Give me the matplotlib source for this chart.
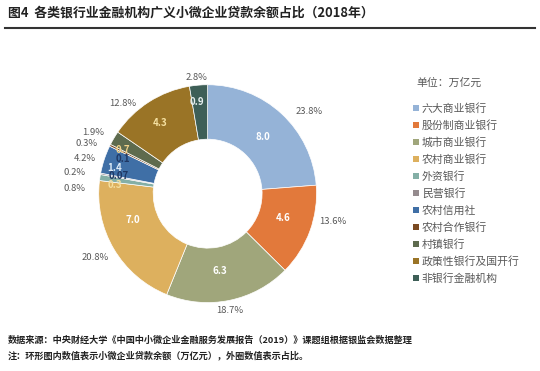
import matplotlib
matplotlib.use('Agg')
from matplotlib import pyplot as plt
from matplotlib.patches import Patch

plt.rcParams['font.family'] = ['Noto Sans CJK SC', 'DejaVu Sans']

# data (万亿元 and share %)
names = ['六大商业银行', '股份制商业银行', '城市商业银行', '农村商业银行', '外资银行',
         '民营银行', '农村信用社', '农村合作银行', '村镇银行', '政策性银行及国开行', '非银行金融机构']
amounts = [8.0, 4.6, 6.3, 7.0, 0.3, 0.07, 1.4, 0.1, 0.7, 4.3, 0.9]
amount_labels = ['8.0', '4.6', '6.3', '7.0', '0.3', '0.07', '1.4', '0.1', '0.7', '4.3', '0.9']
shares = ['23.8%', '13.6%', '18.7%', '20.8%', '0.8%', '0.2%', '4.2%', '0.3%', '1.9%', '12.8%', '2.8%']

colors = ['#95B3D7', '#E2793B', '#A0A67B', '#DDB05E', '#84AFA6', '#958B8E',
          '#3F6FA6', '#7A4A22', '#5E6B4E', '#9A7426', '#3E5F57']
inner_text_colors = ['white', 'white', 'white', 'white', '#F5E0A0', '#1F3864',
                     '#DDEBF7', '#1F3864', '#F2D28A', '#F5E0A0', '#E8F0F0']

# label placement (pie radius = 1)
inner_pos = [(0.51, 0.52), (0.69, -0.22), (0.11, -0.71), (-0.69, -0.24), (-0.85, 0.08),
             (-0.82, 0.16), (-0.85, 0.24), (-0.78, 0.32), (-0.78, 0.40), (-0.44, 0.65), (-0.10, 0.84)]
outer_pos = [(0.93, 0.75), (1.15, -0.26), (0.20, -1.07), (-1.03, -0.59), (-1.22, 0.05),
             (-1.22, 0.19), (-1.13, 0.32), (-1.11, 0.46), (-1.05, 0.56), (-0.78, 0.83), (-0.10, 1.07)]

fig = plt.figure(figsize=(5.4, 3.71), dpi=100)

ax = fig.add_axes([0.102, 0.067, 0.565, 0.822])
ax.pie(amounts, colors=colors, startangle=90, counterclock=False, radius=1,
       wedgeprops=dict(width=0.5, edgecolor='white', linewidth=0.5))
ax.set_xlim(-1.4, 1.4)
ax.set_ylim(-1.4, 1.4)
ax.set_aspect('equal')
ax.axis('off')

for i in range(len(amounts)):
    x, y = inner_pos[i]
    ax.text(x, y, amount_labels[i], ha='center', va='center', fontsize=7,
            fontweight='bold', color=inner_text_colors[i])
    x, y = outer_pos[i]
    ax.text(x, y, shares[i], ha='center', va='center', fontsize=6.8, color='#595959')

# title + rule
fig.text(0.015, 0.965, '图4  各类银行业金融机构广义小微企业贷款余额占比（2018年）',
         fontsize=9.3, fontweight='bold', color='#222222', va='center', ha='left')
fig.add_artist(plt.Line2D([0.01, 0.99], [0.925, 0.925], color='#333333', lw=1.5))

# legend
fig.text(0.772, 0.776, '单位：万亿元', fontsize=7.8, color='#595959', va='center', ha='left')
handles = [Patch(facecolor=c, edgecolor='none') for c in colors]
leg = fig.legend(handles, names, loc='upper left', bbox_to_anchor=(0.757, 0.734),
                 frameon=False, fontsize=7.8, handlelength=0.55, handleheight=0.55,
                 handletextpad=0.25, labelspacing=0.58, borderaxespad=0)
for t in leg.get_texts():
    t.set_color('#595959')

# footer
fig.text(0.015, 0.083, '数据来源：中央财经大学《中国中小微企业金融服务发展报告（2019）》课题组根据银监会数据整理',
         fontsize=6.6, fontweight='bold', color='#222222', va='center', ha='left')
fig.text(0.015, 0.042, '注：环形图内数值表示小微企业贷款余额（万亿元），外圈数值表示占比。',
         fontsize=6.6, fontweight='bold', color='#222222', va='center', ha='left')

plt.savefig('out.png', dpi=100)
